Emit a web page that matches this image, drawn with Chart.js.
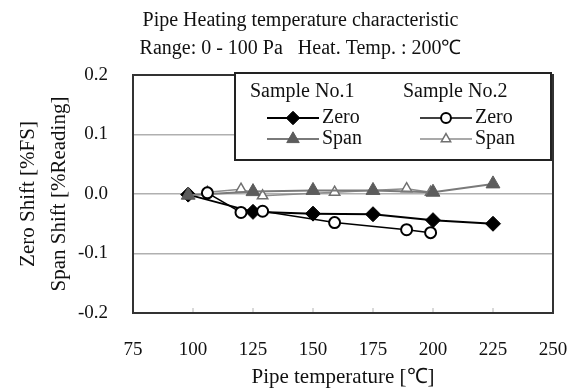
<!DOCTYPE html>
<html>
<head>
<meta charset="utf-8">
<script src="https://cdn.jsdelivr.net/npm/chart.js@4.4.0/dist/chart.umd.min.js"></script>
<style>
    body { margin: 0; background: #fff; }
</style>
</head>
<body>
<canvas id="grafico" width="577" height="392"></canvas>
<script>
const titleLines = ['Pipe Heating temperature characteristic', 'Range: 0 - 100 Pa   Heat. Temp. : 200\u2103'];
const xTitle = 'Pipe temperature [\u2103]';
const yTitle = ['Zero Shift [%FS]', 'Span Shift [%Reading]'];
const xTickValues = [75, 100, 125, 150, 175, 200, 225, 250];
const yTickValues = [-0.2, -0.1, 0.0, 0.1, 0.2];
const yTickLabels = ['-0.2', '-0.1', '0.0', '0.1', '0.2'];

const groupNames = ['Sample No.1', 'Sample No.2'];
const seriesNames = ['Zero', 'Span'];

// Sample No.1
const sample1Temp = [98, 125, 150, 175, 200, 225];
const sample1Zero = [-0.001, -0.030, -0.033, -0.034, -0.044, -0.050];
const sample1Span = [-0.002, 0.004, 0.006, 0.006, 0.003, 0.017];

// Sample No.2
const sample2Temp = [106, 120, 129, 159, 189, 199];
const sample2Zero = [0.002, -0.031, -0.029, -0.048, -0.060, -0.065];
const sample2Span = [0.003, 0.008, -0.003, 0.003, 0.009, 0.003];

const fonte = 'Liberation Serif, Times New Roman, serif';

function pontos(xs, ys) {
    return xs.map((x, i) => ({ x: x, y: ys[i] }));
}

// frame of the plot area + small inner ticks on the bottom axis
const moldura = {
    id: 'moldura',
    beforeDatasetsDraw(chart) {
        const { ctx, chartArea: a, scales } = chart;
        ctx.save();
        ctx.strokeStyle = '#b5b5b5';
        ctx.lineWidth = 1;
        xTickValues.forEach(v => {
            const x = scales.x.getPixelForValue(v);
            ctx.beginPath();
            ctx.moveTo(x, a.bottom);
            ctx.lineTo(x, a.bottom - 5);
            ctx.stroke();
        });
        ctx.strokeStyle = '#333';
        ctx.lineWidth = 2;
        ctx.strokeRect(a.left, a.top, a.right - a.left, a.bottom - a.top);
        ctx.restore();
    }
};

// boxed legend with two sample columns
const legenda = {
    id: 'legenda',
    afterDraw(chart) {
        const { ctx, chartArea: a } = chart;
        const x0 = a.left + 102;
        const y0 = a.top - 2;
        const x1 = a.right - 2;
        const y1 = a.top + 85;
        ctx.save();
        ctx.fillStyle = '#fff';
        ctx.fillRect(x0, y0, x1 - x0, y1 - y0);
        ctx.strokeStyle = '#222';
        ctx.lineWidth = 2;
        ctx.strokeRect(x0, y0, x1 - x0, y1 - y0);

        ctx.font = '20px ' + fonte;
        ctx.textBaseline = 'middle';
        ctx.textAlign = 'left';
        const colunas = [0, 153];
        groupNames.forEach((g, gi) => {
            const cx = x0 + colunas[gi];
            ctx.fillStyle = '#111';
            ctx.fillText(g, cx + 15, y0 + 19);
            seriesNames.forEach((s, si) => {
                const ds = chart.data.datasets.find(d => d.label === g + ' ' + s);
                const y = y0 + 45 + si * 21;
                ctx.strokeStyle = ds.borderColor;
                ctx.lineWidth = ds.borderWidth;
                ctx.beginPath();
                ctx.moveTo(cx + 32, y);
                ctx.lineTo(cx + 84, y);
                ctx.stroke();
                ctx.fillStyle = ds.pointBackgroundColor;
                ctx.strokeStyle = ds.pointBorderColor;
                ctx.lineWidth = ds.pointBorderWidth;
                Chart.helpers.drawPoint(ctx, {
                    pointStyle: ds.pointStyle,
                    radius: ds.pointRadius * 0.9,
                    rotation: 0,
                    borderWidth: ds.pointBorderWidth
                }, cx + 58, y);
                ctx.fillStyle = '#111';
                ctx.fillText(s, cx + 87, y);
            });
        });
        ctx.restore();
    }
};

const ctx = document.getElementById('grafico').getContext('2d');

const chart = new Chart(ctx, {
    type: 'line',
    data: {
        datasets: [
            {
                label: 'Sample No.2 Zero',
                data: pontos(sample2Temp, sample2Zero),
                borderColor: '#000',
                borderWidth: 1.5,
                pointStyle: 'circle',
                pointRadius: 5.5,
                pointBackgroundColor: '#fff',
                pointBorderColor: '#000',
                pointBorderWidth: 2
            },
            {
                label: 'Sample No.1 Span',
                data: pontos(sample1Temp, sample1Span),
                borderColor: '#7a7a7a',
                borderWidth: 2,
                pointStyle: 'triangle',
                pointRadius: 8,
                pointBackgroundColor: '#5c5c5c',
                pointBorderColor: '#5c5c5c',
                pointBorderWidth: 1
            },
            {
                label: 'Sample No.1 Zero',
                data: pontos(sample1Temp, sample1Zero),
                borderColor: '#000',
                borderWidth: 2,
                pointStyle: 'rectRot',
                pointRadius: 7.5,
                pointBackgroundColor: '#000',
                pointBorderColor: '#000',
                pointBorderWidth: 1
            },
            {
                label: 'Sample No.2 Span',
                data: pontos(sample2Temp, sample2Span),
                borderColor: '#8c8c8c',
                borderWidth: 1.5,
                pointStyle: 'triangle',
                pointRadius: 6,
                pointBackgroundColor: '#fff',
                pointBorderColor: '#707070',
                pointBorderWidth: 1.5
            }
        ]
    },
    options: {
        responsive: false,
        animation: false,
        layout: { padding: { left: 24, right: 0, top: 0, bottom: 0 } },
        plugins: {
            legend: { display: false },
            tooltip: { enabled: false },
            title: {
                display: true,
                text: titleLines,
                color: '#111',
                font: { family: fonte, size: 20, weight: 'normal', lineHeight: '28px' },
                padding: { top: 7, bottom: 12 }
            }
        },
        scales: {
            x: {
                type: 'linear',
                min: 75,
                max: 250,
                afterBuildTicks: s => { s.ticks = xTickValues.map(v => ({ value: v })); },
                afterFit: s => {
                    s.height = 79;
                    s.paddingLeft = 0;
                    s.paddingRight = 0;
                },
                grid: { display: false },
                border: { display: false },
                ticks: {
                    color: '#111',
                    padding: 18,
                    maxRotation: 0,
                    font: { family: fonte, size: 19 }
                },
                title: {
                    display: true,
                    text: xTitle,
                    color: '#111',
                    font: { family: fonte, size: 21, lineHeight: '22px' },
                    padding: { top: 0, bottom: 4 }
                }
            },
            y: {
                min: -0.2,
                max: 0.2,
                afterBuildTicks: s => { s.ticks = yTickValues.map(v => ({ value: v })); },
                afterFit: s => { s.width = 109; },
                grid: { color: '#b0b0b0', lineWidth: 1.5, drawTicks: false },
                border: { display: false },
                ticks: {
                    color: '#111',
                    padding: 25,
                    font: { family: fonte, size: 19 },
                    callback: (v, i) => yTickLabels[i]
                },
                title: {
                    display: true,
                    text: yTitle,
                    color: '#111',
                    font: { family: fonte, size: 21, lineHeight: '31px' },
                    padding: { top: -11.5, bottom: 0 }
                }
            },
            y2: {
                position: 'right',
                display: true,
                afterFit: s => {
                    s.width = 24;
                    s.paddingTop = 0;
                    s.paddingBottom = 0;
                },
                grid: { display: false },
                border: { display: false },
                ticks: { display: false }
            }
        }
    },
    plugins: [moldura, legenda]
});
</script>
</body>
</html>
